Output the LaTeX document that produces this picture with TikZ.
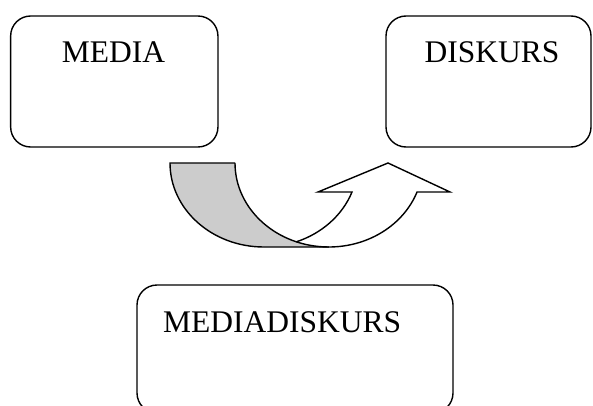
\documentclass[tikz,border=0pt]{standalone}
\usepackage{fontspec}
\setmainfont{Liberation Serif}
\definecolor{ribbon}{HTML}{CCCCCC}
\begin{document}
\begin{tikzpicture}[x=1pt,y=-1pt,
  box/.style={draw, line width=1.4pt, rounded corners=20pt, rectangle, inner sep=0pt},
  lbl/.style={inner sep=0pt, font=\fontsize{31.5}{36}\selectfont},
  ln/.style={draw, line width=1.4pt, line join=miter},
  ell/.style={x radius=93.9, y radius=84}]
\useasboundingbox (0,0) rectangle (593,406);
% boxes
\node[box, minimum width=207.3pt, minimum height=131pt] (media) at (114.3,81.5) {};
\node[box, minimum width=205pt, minimum height=131pt] (diskurs) at (488.5,81.5) {};
\node[box, minimum width=316pt, minimum height=128pt] (mediadiskurs) at (295,349) {};
% labels
\node[lbl, anchor=base] (mediaT) at (113.5,63) {MEDIA};
\node[lbl, anchor=base] (diskursT) at (492,63) {DISKURS};
\node[lbl, anchor=base west] (mediadiskursT) at (163,332) {MEDIADISKURS};
% curved up arrow: shaded back of the ribbon
\fill[ribbon] (170,163) -- (235,163)
  arc[start angle=180, end angle=90, ell]
  -- (263.9,247)
  arc[start angle=90, end angle=180, ell] -- cycle;
% outline of the curved up arrow
\draw[ln] (235,163) -- (170,163)
  arc[start angle=180, end angle=90, ell]
  -- (328.9,247)
  arc[start angle=90, end angle=20.2, ell]
  -- (450,192) -- (388,163) -- (318,192) -- (352,192)
  arc[start angle=20.2, end angle=69.75, ell];
\draw[ln] (235,163) arc[start angle=180, end angle=90, ell];
\end{tikzpicture}
\end{document}
